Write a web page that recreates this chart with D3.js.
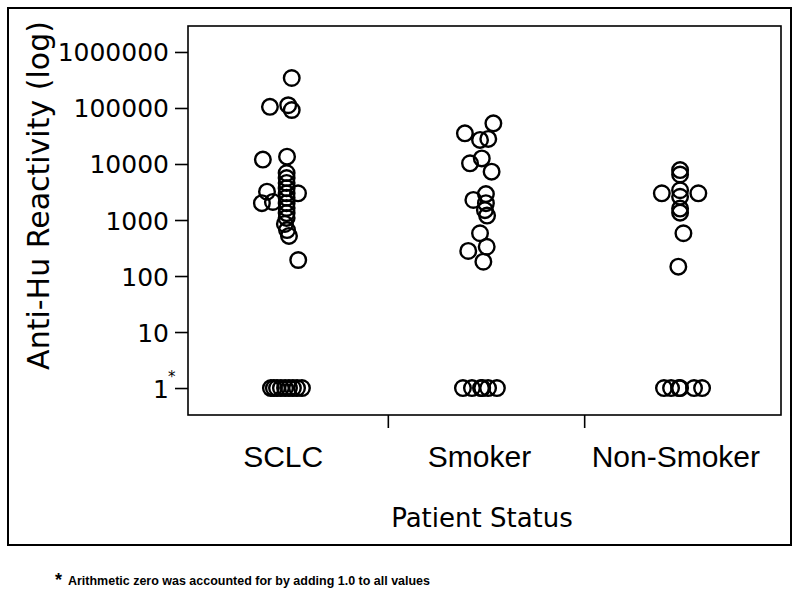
<!DOCTYPE html>
<html>
<head>
<meta charset="utf-8">
<script src="https://cdn.jsdelivr.net/npm/d3@7"></script>
<style>
  html, body { margin: 0; padding: 0; background: #fff; }
  svg { display: block; }
</style>
</head>
<body>
<svg id="chart" width="800" height="600"></svg>
<script>
// ---------- DATA ----------
const categories = ["SCLC", "Smoker", "Non-Smoker"];
const yTickValues = [1, 10, 100, 1000, 10000, 100000, 1000000];
const yTickLabels = ["1", "10", "100", "1000", "10000", "100000", "1000000"];

// Anti-Hu reactivity (value + 1.0)
const sclcValues = [343000, 105000, 112000, 92000, 12000, 13500,
  6900, 5600, 4600, 3700, 3000, 2500, 2000, 1640, 1330, 1090, 850, 660, 520,
  3000, 3200, 2000, 2100, 193,
  1, 1, 1, 1, 1, 1, 1, 1, 1];
// horizontal jitter, percent of category band width
const sclcJitter = [0.8, -10.3, -1.0, 0.8, -13.9, -1.6,
  -1.8, -1.8, -1.8, -1.8, -1.8, -1.8, -1.8, -1.8, -1.8, -1.8, -2.7, -1.6, -0.6,
  4.0, -11.8, -14.4, -8.8, 4.1,
  -9.8, -8.3, -6.7, -4.7, -2.6, -0.6, 1.4, 3.5, 6.0];

const smokerValues = [35300, 53300, 26900, 28000, 10300, 12600, 7300,
  2280, 2900, 2000, 1500, 1200, 580, 280, 333, 180,
  1, 1, 1, 1, 1, 1];
const smokerJitter = [-11.0, 3.5, -3.3, 0.9, -8.4, -2.4, 2.6,
  -6.7, -0.3, -0.3, -0.8, 0.3, -3.3, -9.3, 0.1, -1.6,
  -12.0, -7.4, -2.8, -2.2, 0.8, 5.3];

const nonSmokerValues = [7800, 6500, 3000, 3000, 3400, 2600, 1600, 1350, 580, 147,
  1, 1, 1, 1, 1, 1];
const nonSmokerJitter = [-1.4, -1.4, -10.7, 7.9, -1.4, -1.4, -1.4, -1.4, 0.3, -2.3,
  -9.6, -6.0, -1.9, -1.4, 5.7, 9.8];

const yTitle = "Anti-Hu Reactivity (log)";
const xTitle = "Patient Status";
const footnote = "Arithmetic zero was accounted for by adding 1.0 to all values";

// ---------- BUILD ----------
const groups = [
  { cat: categories[0], values: sclcValues, jitter: sclcJitter },
  { cat: categories[1], values: smokerValues, jitter: smokerJitter },
  { cat: categories[2], values: nonSmokerValues, jitter: nonSmokerJitter }
];
const points = groups.flatMap(g => g.values.map((v, i) => ({ cat: g.cat, value: v, jitter: g.jitter[i] })));

const svg = d3.select("#chart");
svg.append("rect").attr("x", 0).attr("y", 0).attr("width", 800).attr("height", 600).attr("fill", "#fff");

// outer frame
svg.append("rect")
  .attr("x", 8).attr("y", 8).attr("width", 783).attr("height", 537)
  .attr("fill", "none").attr("stroke", "#000").attr("stroke-width", 2);

const plot = { left: 188, top: 26, right: 781, bottom: 415 };

const x = d3.scaleBand().domain(categories).range([192, plot.right]).padding(0);
const y = d3.scaleLog().domain([0.33, 2.91e6]).range([plot.bottom, plot.top]);

// plot frame
svg.append("rect")
  .attr("x", plot.left).attr("y", plot.top)
  .attr("width", plot.right - plot.left).attr("height", plot.bottom - plot.top)
  .attr("fill", "none").attr("stroke", "#000").attr("stroke-width", 1.6);

// y axis
const yAxis = d3.axisLeft(y).tickValues(yTickValues)
  .tickFormat((d, i) => yTickLabels[i]).tickSize(13).tickPadding(6);
const gy = svg.append("g").attr("transform", `translate(${plot.left},0)`).call(yAxis);
gy.select(".domain").remove();
gy.selectAll(".tick line").attr("stroke", "#000").attr("stroke-width", 1.6);
gy.selectAll(".tick text")
  .attr("font-family", "DejaVu Sans").attr("font-size", 25).attr("fill", "#000")
  .attr("dy", "0.36em");
// asterisk on "1"
gy.selectAll(".tick").filter(d => d === 1).append("text")
  .attr("x", -20).attr("y", -7)
  .attr("font-family", "DejaVu Sans").attr("font-size", 15).attr("fill", "#000")
  .attr("text-anchor", "start")
  .text("*");

// x axis: ticks between bands
const boundaries = categories.slice(1).map(c => x(c));
svg.append("g").selectAll("line").data(boundaries).join("line")
  .attr("x1", d => d).attr("x2", d => d)
  .attr("y1", plot.bottom).attr("y2", plot.bottom + 13)
  .attr("stroke", "#000").attr("stroke-width", 1.6);

svg.append("g").selectAll("text").data(categories).join("text")
  .attr("x", d => x(d) + x.bandwidth() / 2 - 7)
  .attr("y", 467)
  .attr("text-anchor", "middle")
  .attr("font-family", "Liberation Sans, Arial, sans-serif")
  .attr("font-size", 30).attr("fill", "#000")
  .text(d => d);

// axis titles
svg.append("text")
  .attr("transform", `translate(49,${(plot.top + plot.bottom) / 2 - 25}) rotate(-90)`)
  .attr("text-anchor", "middle")
  .attr("font-family", "DejaVu Sans").attr("font-size", 30).attr("fill", "#000")
  .text(yTitle);

svg.append("text")
  .attr("x", 482).attr("y", 527)
  .attr("text-anchor", "middle")
  .attr("font-family", "DejaVu Sans").attr("font-size", 26).attr("fill", "#000")
  .text(xTitle);

// points
svg.append("g").selectAll("circle").data(points).join("circle")
  .attr("cx", d => x(d.cat) + x.bandwidth() / 2 + d.jitter / 100 * x.bandwidth())
  .attr("cy", d => y(d.value))
  .attr("r", 7.8)
  .attr("fill", "none").attr("stroke", "#000").attr("stroke-width", 2.4);

// footnote
svg.append("text")
  .attr("x", 55).attr("y", 586)
  .attr("font-family", "Liberation Sans, Arial, sans-serif")
  .attr("font-weight", "bold").attr("font-size", 18).attr("fill", "#000")
  .text("*");
svg.append("text")
  .attr("x", 68).attr("y", 585)
  .attr("font-family", "Liberation Sans, Arial, sans-serif")
  .attr("font-weight", "bold").attr("font-size", 13).attr("fill", "#000")
  .attr("textLength", 362).attr("lengthAdjust", "spacingAndGlyphs")
  .text(footnote);
</script>
</body>
</html>
